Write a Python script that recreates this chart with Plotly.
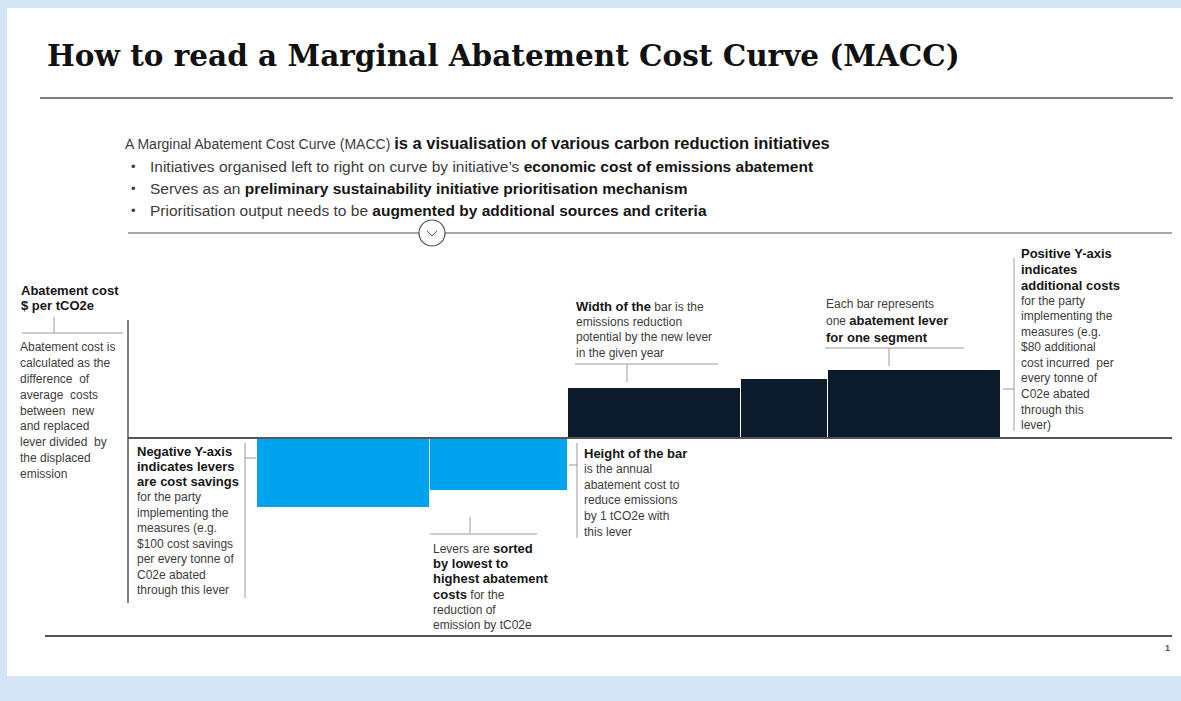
import plotly.graph_objects as go

# ---------------- data ----------------
levers = ["Lever 1", "Lever 2", "Lever 3", "Lever 4", "Lever 5"]
widths = [10, 8, 10, 5, 10]            # emissions reduction potential (tCO2e)
costs = [-100, -76, 71, 84, 97]        # abatement cost ($ per tCO2e)
bar_colors = ["#00a3ee", "#00a3ee", "#0b1b2b", "#0b1b2b", "#0b1b2b"]

W, H = 1181, 701
FONT = "Liberation Sans, Arial, sans-serif"


def X(px):
    return px / W


def Y(py):
    return 1 - py / H


# bar positions from cumulative widths
starts, acc = [], 0
for w in widths:
    starts.append(acc)
    acc += w
centers = [s + w / 2 for s, w in zip(starts, widths)]

fig = go.Figure()
fig.add_trace(go.Bar(
    x=centers, y=costs, width=widths, base=0,
    marker=dict(color=bar_colors, line=dict(color="white", width=1)),
    text=levers, textposition="none", hoverinfo="text+y",
    showlegend=False,
))

shapes = []


def line(x0, y0, x1, y1, color="#9a9a9a", width=1):
    shapes.append(dict(type="line", xref="paper", yref="paper",
                       x0=X(x0), y0=Y(y0), x1=X(x1), y1=Y(y1),
                       line=dict(color=color, width=width)))


# white panel
shapes.append(dict(type="rect", xref="paper", yref="paper", layer="below",
                   x0=X(7), x1=X(1181), y0=Y(676), y1=Y(8),
                   fillcolor="white", line=dict(width=0)))

# title rule, separator, bottom rule
line(40, 98, 1173, 98, "#555555", 1.5)
line(128, 233, 1172, 233, "#8a8a8a", 1.5)
line(45, 636, 1172, 636, "#555555", 2)

# axes
line(128, 320, 128, 603, "#555555", 1.5)
line(128, 438, 1172, 438, "#555555", 2)

# circle with chevron
shapes.append(dict(type="circle", xref="paper", yref="paper",
                   x0=X(419), x1=X(445), y0=Y(246), y1=Y(220),
                   fillcolor="white", line=dict(color="#555555", width=1.2)))
shapes.append(dict(type="path", xref="paper", yref="paper",
                   path=f"M {X(427)} {Y(231)} L {X(432)} {Y(236)} L {X(437)} {Y(231)}",
                   line=dict(color="#555555", width=1)))

# brackets
line(54, 317, 54, 333)
line(22, 333, 123, 333)
line(245, 443, 245, 598)
line(245, 458, 256, 458)
line(470, 517, 470, 533)
line(430, 534, 537, 534)
line(577, 443, 577, 538)
line(569, 465, 577, 465)
line(575, 364, 718, 364)
line(627, 364, 627, 382)
line(825, 348, 964, 348)
line(889, 348, 889, 366)
line(1014, 258, 1014, 431)
line(1003, 389, 1014, 389)

annotations = []


def txt(x, y, s, size=12, color="#3c3c3c", family=FONT, xanchor="left"):
    annotations.append(dict(xref="paper", yref="paper", x=X(x), y=Y(y),
                            text=s, showarrow=False, xanchor=xanchor,
                            yanchor="middle", align="left", borderpad=0,
                            font=dict(size=size, color=color, family=family)))


def B(s, size=13):
    return f"<span style='font-weight:bold;font-size:{size}px;color:#161616'>{s}</span>"


def block(x, y0, step, lines, size=12):
    for i, s in enumerate(lines):
        txt(x, y0 + i * step, s, size=size)


# title
txt(46, 55, "<b>How to read a Marginal Abatement Cost Curve (MACC)</b>",
    size=29.5, color="#111111", family="DejaVu Serif, Georgia, serif")

# intro text
txt(124, 143, "A Marginal Abatement Cost Curve (MACC) " +
    B("is a visualisation of various carbon reduction initiatives", 16.5), size=14)
bullets = [
    "Initiatives organised left to right on curve by initiative’s " + B("economic cost of emissions abatement", 15.5),
    "Serves as an " + B("preliminary sustainability initiative prioritisation mechanism", 15.5),
    "Prioritisation output needs to be " + B("augmented by additional sources and criteria", 15.5),
]
for yy, b in zip([166, 188, 211], bullets):
    txt(130, yy, "•", size=13)
    txt(149, yy, b, size=15.5)

# annotation blocks
block(20, 290, 15, [B("Abatement cost"), B("$ per tCO2e")])
block(19, 347, 15.9, ["Abatement cost is", "calculated as the", "difference  of",
                      "average  costs", "between  new", "and replaced",
                      "lever divided  by", "the displaced", "emission"])
block(136, 451, 15.45, [B("Negative Y-axis"), B("indicates levers"), B("are cost savings"),
                        "for the party", "implementing the", "measures (e.g.",
                        "$100 cost savings", "per every tonne of", "C02e abated",
                        "through this lever"])
block(432, 548, 15.4, ["Levers are " + B("sorted"), B("by lowest to"),
                       B("highest abatement"), B("costs") + " for the",
                       "reduction of", "emission by tC02e"])
block(583, 453, 15.8, [B("Height of the bar"), "is the annual", "abatement cost to",
                       "reduce emissions", "by 1 tCO2e with", "this lever"])
block(575, 306, 15.7, [B("Width of the") + " bar is the", "emissions reduction",
                       "potential by the new lever", "in the given year"])
block(825, 304, 16.5, ["Each bar represents", "one " + B("abatement lever"),
                       B("for one segment")])
block(1020, 254, 15.55, [B("Positive Y-axis"), B("indicates"), B("additional costs"),
                         "for the party", "implementing the", "measures (e.g.",
                         "$80 additional", "cost incurred  per", "every tonne of",
                         "C02e abated", "through this", "lever)"])

# page number
txt(1171, 648, "<b>1</b>", size=9, color="#555555", xanchor="right")

px_per_unit = 17.3
x_left = (128 - 257) / px_per_unit
x_right = (1172 - 257) / px_per_unit
y_scale = 0.7
y_top = (438 - 320) / y_scale
y_bot = -(603 - 438) / y_scale

fig.update_layout(
    width=W, height=H,
    margin=dict(l=0, r=0, t=0, b=0),
    paper_bgcolor="#d4e6f5",
    plot_bgcolor="rgba(0,0,0,0)",
    xaxis=dict(domain=[X(128), X(1172)], range=[x_left, x_right], visible=False, fixedrange=True),
    yaxis=dict(domain=[Y(603), Y(320)], range=[y_bot, y_top], visible=False, fixedrange=True),
    bargap=0,
    shapes=shapes,
    annotations=annotations,
    font=dict(family=FONT),
)

fig.write_html("out.html",
               config={"displayModeBar": False},
               post_script="document.body.style.margin='0';"
                           "document.body.style.background='#d4e6f5';")
